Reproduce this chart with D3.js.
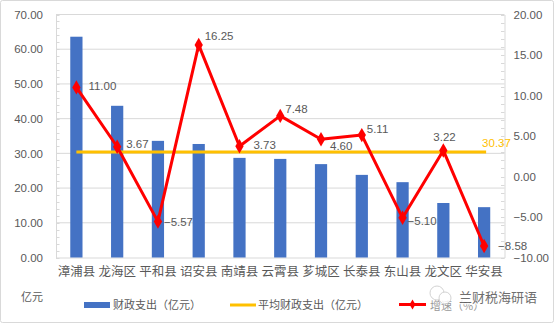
<!DOCTYPE html>
<html><head><meta charset="utf-8">
<script src="https://cdn.jsdelivr.net/npm/d3@7"></script>
<style>
html,body{margin:0;padding:0;background:#fff;}
svg{display:block;}
</style></head>
<body><svg id="c" width="554" height="323"></svg>
<script>
const categories = ["漳浦县","龙海区","平和县","诏安县","南靖县","云霄县","芗城区","长泰县","东山县","龙文区","华安县"];
const spending = [63.6, 43.7, 33.6, 32.7, 28.7, 28.4, 26.9, 23.8, 21.7, 15.7, 14.5];
const growth = [11.00, 3.67, -5.57, 16.25, 3.73, 7.48, 4.60, 5.11, -5.10, 3.22, -8.58];
const average = 30.37;
const leftTicks = [0,10,20,30,40,50,60,70];
const rightTicks = [-10,-5,0,5,10,15,20];
const seriesNames = ["财政支出（亿元）","平均财政支出（亿元）","增速（%）"];
const unitLabel = "亿元";
const watermark = "兰财税海研语";

const svg = d3.select("#c");
const W = 554, H = 323;
const L = 56, R = 504.5, T = 14.5, B = 257.5;
const numFont = "'Liberation Sans', Arial, sans-serif";
const cjkFont = "'Noto Sans CJK SC', sans-serif";
const gray = "#595959";

svg.append("rect").attr("x",0.5).attr("y",0.5).attr("width",W-1).attr("height",H-1)
  .attr("fill","#fff").attr("stroke","#d9d9d9").attr("rx",2);

const x = d3.scaleBand().domain(categories).range([L,R]).paddingInner(0.7).paddingOuter(0.35);
const cx = d => x(d) + x.bandwidth()/2;
const yL = d3.scaleLinear().domain([0,70]).range([B,T]);
const yR = d3.scaleLinear().domain([-10,20]).range([B,T]);

// gridlines
svg.append("g").selectAll("line").data(leftTicks.slice(1)).join("line")
  .attr("x1",L).attr("x2",R).attr("y1",d=>yL(d)).attr("y2",d=>yL(d))
  .attr("stroke","#d9d9d9").attr("stroke-width",1);

// left axis
const gL = svg.append("g").attr("transform",`translate(${L},0)`)
  .call(d3.axisLeft(yL).tickValues(leftTicks).tickSize(0).tickPadding(13).tickFormat(d3.format(".2f")));
gL.select(".domain").attr("stroke","#d9d9d9");
gL.selectAll("text").attr("font-family",numFont).attr("font-size",11.5).attr("fill",gray);
// minor ticks left (inside)
svg.append("g").selectAll("line").data(d3.range(0,70.01,2)).join("line")
  .attr("x1",L).attr("x2",L+3.5).attr("y1",d=>Math.round(yL(d))+0.5).attr("y2",d=>Math.round(yL(d))+0.5)
  .attr("stroke","#d9d9d9");

// right axis
const gR = svg.append("g").attr("transform",`translate(${R},0)`)
  .call(d3.axisRight(yR).tickValues(rightTicks).tickSize(0).tickPadding(9).tickFormat(d3.format(".2f")));
gR.select(".domain").attr("stroke","#d9d9d9");
gR.selectAll("text").attr("font-family",numFont).attr("font-size",11.5).attr("fill",gray);
svg.append("g").selectAll("line").data(d3.range(-10,20.01,1)).join("line")
  .attr("x1",R-3.5).attr("x2",R).attr("y1",d=>Math.round(yR(d))+0.5).attr("y2",d=>Math.round(yR(d))+0.5)
  .attr("stroke","#d9d9d9");

// bottom axis
const gB = svg.append("g").attr("transform",`translate(0,${B})`)
  .call(d3.axisBottom(x).tickSize(0).tickPadding(10));
gB.select(".domain").attr("stroke","#d9d9d9");
gB.selectAll("text").attr("font-family",cjkFont).attr("font-size",12.5).attr("fill",gray);

// bars
svg.append("g").selectAll("rect").data(categories).join("rect")
  .attr("x",d=>x(d)).attr("width",x.bandwidth())
  .attr("y",(d,i)=>yL(spending[i])).attr("height",(d,i)=>yL(0)-yL(spending[i]))
  .attr("fill","#4472C4");

// average line
svg.append("line").attr("x1",cx(categories[0])).attr("x2",cx(categories[categories.length-1])+2)
  .attr("y1",yL(average)).attr("y2",yL(average)).attr("stroke","#FFC000").attr("stroke-width",3);
svg.append("text").attr("x",cx(categories[categories.length-1])-2).attr("y",yL(average)-9)
  .attr("dy","0.35em").attr("font-family",numFont).attr("font-size",11.5).attr("fill","#FFC000")
  .text(d3.format(".2f")(average));

// growth line
const pts = categories.map((c,i)=>[cx(c), yR(growth[i])]);
svg.append("path").attr("d",d3.line()(pts)).attr("fill","none").attr("stroke","#FF0000")
  .attr("stroke-width",3).attr("stroke-linejoin","round");
const diamond = d3.symbol().type(d3.symbolDiamond).size(60);
svg.append("g").selectAll("path").data(pts).join("path")
  .attr("transform",d=>`translate(${d[0]},${d[1]})`).attr("d",diamond).attr("fill","#FF0000");

// data labels (placement: right by default)
const place = {"诏安县":[6,-9],"云霄县":[5,-7],"平和县":[6,0],"长泰县":[5,-6],"芗城区":[9,7],"龙文区":[-10,-13],"龙海区":[9,-3],"南靖县":[14,-1],"漳浦县":[12,-1],"东山县":[5,3],"华安县":[14,0]};
svg.append("g").selectAll("text").data(categories).join("text")
  .attr("x",(d,i)=>pts[i][0]+(place[d]?place[d][0]:8))
  .attr("y",(d,i)=>pts[i][1]+(place[d]?place[d][1]:0))
  .attr("dy","0.35em").attr("font-family",numFont).attr("font-size",11.5).attr("fill",gray)
  .text((d,i)=>d3.format(".2f")(growth[i]));

// unit label
svg.append("text").attr("x",21).attr("y",297).attr("dy","0.35em").attr("font-family",cjkFont)
  .attr("font-size",11).attr("fill",gray).text(unitLabel);

// legend
const lg = svg.append("g");
lg.append("rect").attr("x",84).attr("y",302).attr("width",26).attr("height",6).attr("fill","#4472C4");
lg.append("text").attr("x",113).attr("y",305).attr("dy","0.35em").attr("font-family",cjkFont)
  .attr("font-size",11).attr("fill",gray).text(seriesNames[0]);
lg.append("line").attr("x1",230).attr("x2",256).attr("y1",305).attr("y2",305).attr("stroke","#FFC000").attr("stroke-width",3);
lg.append("text").attr("x",258).attr("y",305).attr("dy","0.35em").attr("font-family",cjkFont)
  .attr("font-size",11).attr("fill",gray).text(seriesNames[1]);
lg.append("line").attr("x1",399).attr("x2",426).attr("y1",304.5).attr("y2",304.5).attr("stroke","#FF0000").attr("stroke-width",3);
lg.append("path").attr("transform","translate(412.5,304.5)").attr("d",d3.symbol().type(d3.symbolDiamond).size(30)).attr("fill","#FF0000");
lg.append("text").attr("x",430).attr("y",306).attr("dy","0.35em").attr("font-family",cjkFont)
  .attr("font-size",11).attr("fill","#999").text(seriesNames[2]);

// watermark
const wm = svg.append("g").attr("opacity",0.85);
wm.append("circle").attr("cx",437).attr("cy",293).attr("r",7).attr("fill","#fff").attr("stroke","#ccc");
wm.append("circle").attr("cx",445).attr("cy",298).attr("r",6).attr("fill","#fff").attr("stroke","#ccc");
wm.append("text").attr("x",459).attr("y",297).attr("dy","0.35em").attr("font-family",cjkFont)
  .attr("font-size",13).attr("fill","#555").attr("stroke","#fff").attr("stroke-width",2.5)
  .attr("paint-order","stroke").text(watermark);
</script></body></html>
